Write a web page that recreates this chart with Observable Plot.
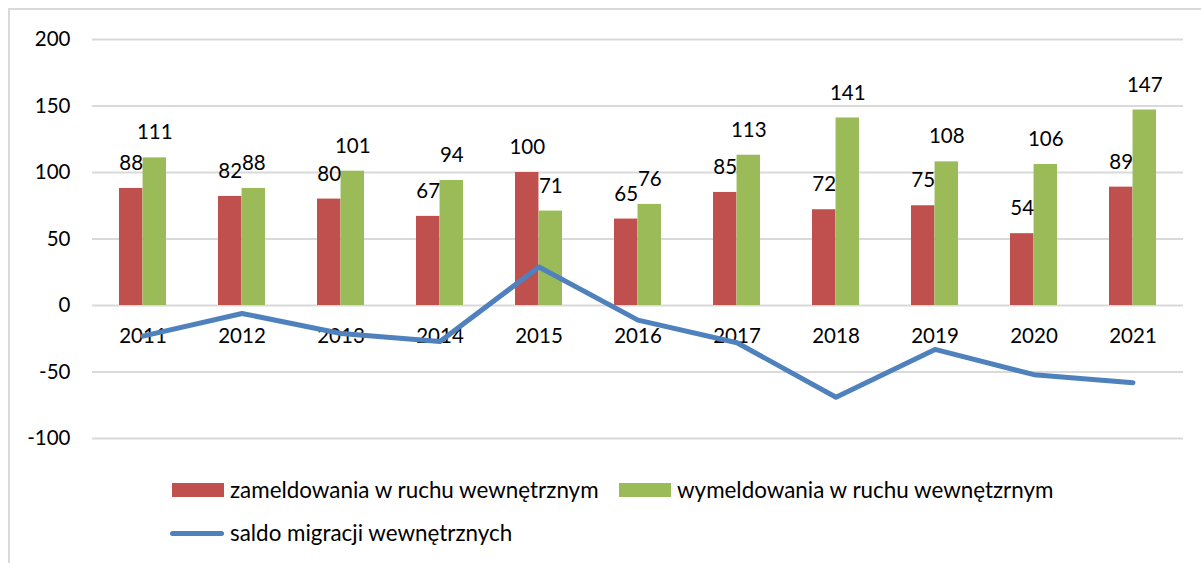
<!DOCTYPE html>
<html>
<head>
<meta charset="utf-8">
<script src="https://cdn.jsdelivr.net/npm/d3@7"></script>
<script src="https://cdn.jsdelivr.net/npm/@observablehq/plot@0.6"></script>
<style>
  html, body { margin: 0; padding: 0; background: #fff; width: 1201px; height: 563px; overflow: hidden; }
  body { position: relative; font-family: Lato, "Open Sans", sans-serif; color: #000; }
  #frame { position: absolute; left: 8px; top: 8px; width: 1400px; height: 800px; border: 2px solid #d9d9d9; box-sizing: border-box; }
  #chart { position: absolute; left: 0; top: 0; }
  .leg { position: absolute; font-size: 22.4px; line-height: 22px; white-space: nowrap; display: flex; align-items: center; }
  .sw { display: inline-block; margin-right: 6px; }
</style>
</head>
<body>
<div id="frame"></div>
<div id="chart"></div>
<div class="leg" style="left:172px; top:479px;"><span class="sw" style="width:52px;height:14px;background:#C0504D"></span>zameldowania w ruchu wewnętrznym</div>
<div class="leg" style="left:619px; top:479px;"><span class="sw" style="width:52px;height:14px;background:#9BBB59"></span>wymeldowania w ruchu wewnętzrnym</div>
<div class="leg" style="left:170px; top:522px;"><span class="sw" style="width:54px;height:5px;border-radius:3px;background:#4F81BD"></span>saldo migracji wewnętrznych</div>
<script>
const years = ["2011","2012","2013","2014","2015","2016","2017","2018","2019","2020","2021"];
const zameldowania = [88, 82, 80, 67, 100, 65, 85, 72, 75, 54, 89];
const wymeldowania = [111, 88, 101, 94, 71, 76, 113, 141, 108, 106, 147];
const saldo = [-23, -6, -21, -27, 29, -11, -28, -69, -33, -52, -58];
const yTicks = [-100, -50, 0, 50, 100, 150, 200];

const W = 1201, H = 460, mL = 92, mR = 18, mT = 39, mB = 22;
const pInner = 0.525, pOuter = pInner / 2;
const step = (W - mL - mR) / (years.length - pInner + 2 * pOuter);
const bw = step * (1 - pInner);

const red = years.map((y, i) => ({year: y, v: zameldowania[i]}));
const green = years.map((y, i) => ({year: y, v: wymeldowania[i]}));
const line = years.map((y, i) => ({year: y, v: saldo[i]}));

const fontSize = 20.5;
const chart = Plot.plot({
  width: W, height: H,
  marginLeft: mL, marginRight: mR, marginTop: mT, marginBottom: mB,
  style: {fontFamily: "Lato, 'Open Sans', sans-serif", fontSize: fontSize + "px", background: "transparent", color: "#000"},
  x: {type: "band", domain: years, paddingInner: pInner, paddingOuter: pOuter, axis: null},
  y: {domain: [-100, 200], ticks: yTicks, tickFormat: d => String(d), tickSize: 0, tickPadding: 22, label: null},
  marks: [
    Plot.ruleY(yTicks, {stroke: "#d9d9d9", strokeWidth: 2}),
    Plot.barY(red, {x: "year", y: "v", fill: "#C0504D", insetRight: bw / 2}),
    Plot.barY(green, {x: "year", y: "v", fill: "#9BBB59", insetLeft: bw / 2}),
    Plot.text(red, {x: "year", y: "v", text: d => String(d.v), dx: -bw / 4, dy: -25, fill: "#000", fontSize: fontSize}),
    Plot.text(green, {x: "year", y: "v", text: d => String(d.v), dx: bw / 4, dy: -25, fill: "#000", fontSize: fontSize}),
    Plot.text(years, {x: d => d, y: () => 0, text: d => d, dy: 31, fill: "#000", fontSize: fontSize}),
    Plot.line(line, {x: "year", y: "v", stroke: "#4F81BD", strokeWidth: 5, strokeLinejoin: "round", strokeLinecap: "round"})
  ]
});
document.getElementById("chart").appendChild(chart);
</script>
</body>
</html>
